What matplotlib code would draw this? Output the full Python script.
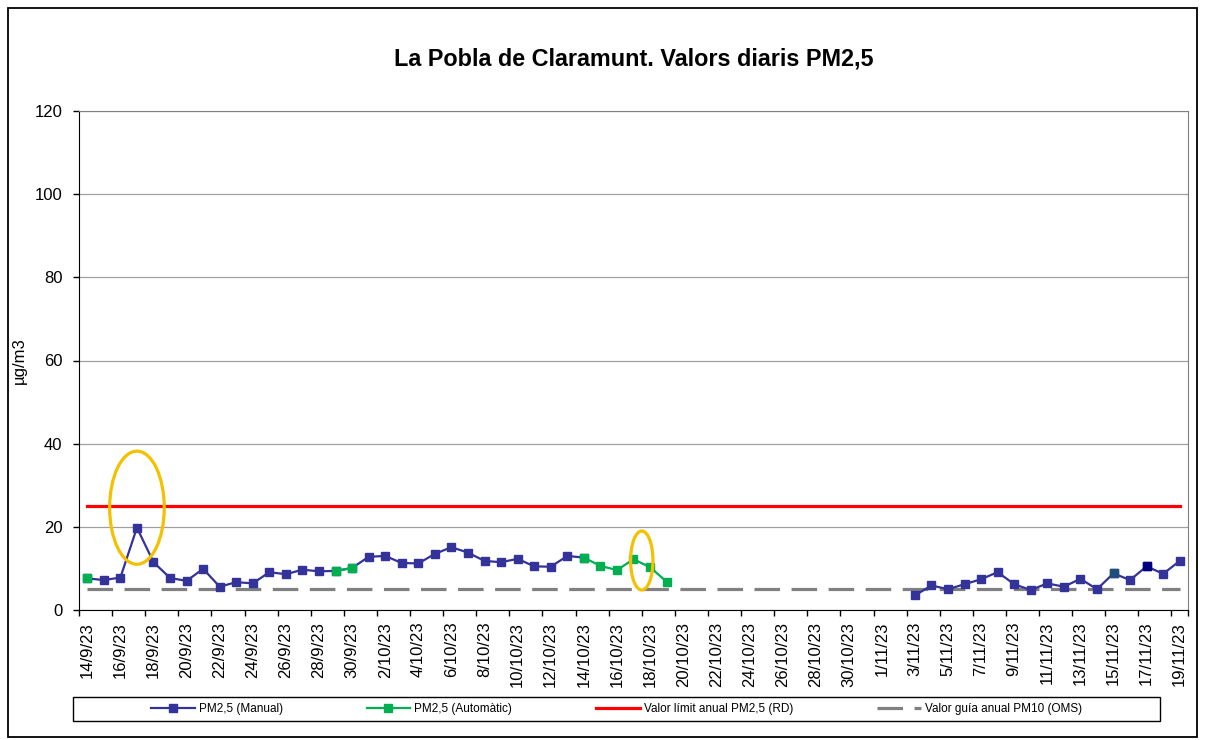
import numpy as np
import pandas as pd
from matplotlib import pyplot as plt
from matplotlib.patches import Ellipse, Rectangle

nan = np.nan

# days 14/9/23 .. 19/11/23
dates = pd.date_range('2023-09-14', '2023-11-19')
labels = [f'{d.day}/{d.month}/23' for d in dates]

manual = [7.6, 7.2, 7.8, 19.8, 11.5, 7.7, 7.0, 9.9, 5.6, 6.7, 6.4, 9.1, 8.6, 9.7, 9.3, 9.4, 10.1,
          12.8, 13.0, 11.3, 11.2, 13.5, 15.1, 13.8, 11.8, 11.5, 12.3, 10.5, 10.4, 13.0, 12.6,
          nan, nan, nan, nan, nan, nan, nan, nan, nan, nan, nan, nan, nan, nan, nan, nan, nan, nan, nan,
          3.5, 5.9, 5.0, 6.2, 7.4, 9.1, 6.2, 4.8, 6.4, 5.6, 7.5, 5.0, 8.8, 7.2, 10.5, 8.7, 11.8]

automatic = [7.6, nan, nan, nan, nan, nan, nan, nan, nan, nan, nan, nan, nan, nan, nan, 9.4, 10.1,
             nan, nan, nan, nan, nan, nan, nan, nan, nan, nan, nan, nan, nan, 12.6,
             10.6, 9.6, 12.2, 10.3, 6.8] + [nan] * 31

limit_rd = 25     # Valor limit anual PM2,5 (RD)
guide_oms = 5     # Valor guia anual PM10 (OMS)

# a couple of markers have a different fill in the original
odd_idx = [62, 64]
odd_col = ['#1F4E79', '#000080']

plt.rcParams['font.family'] = ['Liberation Sans', 'DejaVu Sans']

fig = plt.figure(figsize=(12.06, 7.4), dpi=100)
ax = fig.add_axes([79/1206, 1-610/740, (1188-79)/1206, (610-111)/740])

x = np.arange(len(dates))
blue = '#333399'
green = '#00B050'

ax.plot([x[0], x[-1]], [limit_rd, limit_rd], color='#FF0000', lw=2.3,
        label='Valor límit anual PM2,5 (RD)', zorder=2)
ax.plot([x[0], x[-1]], [guide_oms, guide_oms], color='#808080', lw=2.3,
        ls=(0, (8, 3.6)), label='Valor guía anual PM10 (OMS)', zorder=2)
ax.plot(x, manual, color=blue, lw=1.6, marker='s', ms=5.2, mec=blue, mfc=blue,
        label='PM2,5 (Manual)', zorder=3)
ax.plot(x, automatic, color=green, lw=1.6, marker='s', ms=5.2, mec=green, mfc=green,
        label='PM2,5 (Automàtic)', zorder=4)
for i, c in zip(odd_idx, odd_col):
    ax.plot(x[i], manual[i], marker='s', ms=5.2, mec=c, mfc=c, ls='none', zorder=5)

# yellow highlight rings
ax.add_patch(Ellipse((3, 24.6), 3.3, 27.2, fill=False, ec='#F5C000', lw=2.3, zorder=6))
ax.add_patch(Ellipse((33.5, 11.9), 1.35, 14.2, fill=False, ec='#F5C000', lw=2.3, zorder=6))

ax.set_xlim(-0.5, len(dates) - 0.5)
ax.set_ylim(0, 120)
ax.set_yticks(range(0, 121, 20))
ax.yaxis.grid(True, color='#A0A0A0', lw=0.9)
ax.set_axisbelow(True)

# ticks on category boundaries, labels every second day
ax.set_xticks(list(np.arange(-0.5, len(dates), 2)) + [len(dates) - 0.5])
ax.set_xticklabels([])
ax.set_xticks(x[::2], minor=True)
ax.set_xticklabels(labels[::2], minor=True, rotation=90, fontsize=12)
ax.tick_params(axis='x', which='minor', length=0, pad=8.5)
ax.tick_params(axis='x', which='major', length=4, width=1, color='black')
ax.tick_params(axis='y', length=4, width=1, labelsize=12, pad=8)

for s in ['top', 'right']:
    ax.spines[s].set_color('#808080')
for s in ['left', 'bottom']:
    ax.spines[s].set_color('black')

ax.set_ylabel('µg/m3', fontsize=12)
ax.yaxis.set_label_coords(-0.047, 0.5)
ax.set_title('La Pobla de Claramunt. Valors diaris PM2,5', fontsize=16.8, fontweight='bold', pad=33)

h, l = ax.get_legend_handles_labels()
order = [2, 3, 0, 1]
fig.legend([h[i] for i in order], [l[i] for i in order], loc='center', ncol=4,
           bbox_to_anchor=((73 + 1160) / 2 / 1206, 1 - 709/740), fontsize=8.5,
           frameon=False, handlelength=3.7, handletextpad=0.35, columnspacing=7.1)
# legend box
fig.patches.append(Rectangle((73/1206, 1-721/740), (1160-73)/1206, 24/740, transform=fig.transFigure,
                             fill=False, ec='black', lw=1.0))

# outer chart border
fig.patches.append(Rectangle((8/1206, 3/740), (1197-8)/1206, (732-3)/740, transform=fig.transFigure,
                             fill=False, ec='black', lw=1.3))

fig.savefig('out.png', dpi=100)
